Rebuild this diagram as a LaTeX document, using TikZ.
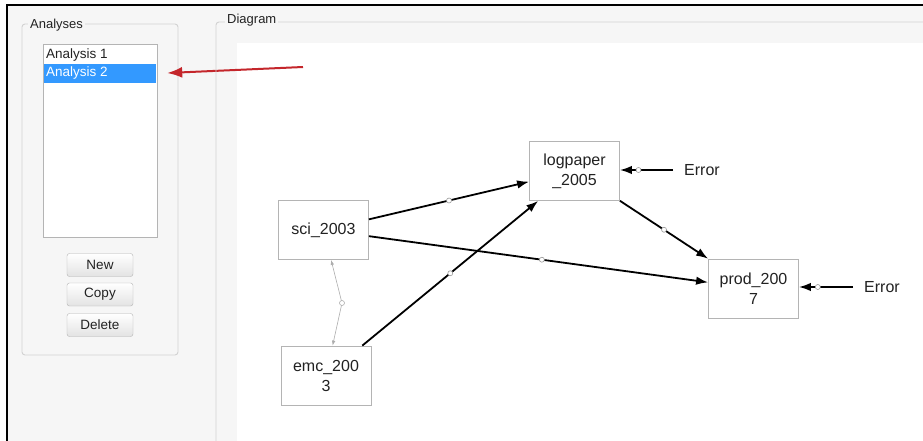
\documentclass[tikz,border=0pt]{standalone}
\usepackage{fontspec}
\setmainfont{Liberation Sans}
\usetikzlibrary{arrows.meta}
\definecolor{panel}{HTML}{F6F6F6}
\definecolor{frameline}{HTML}{D2D2D2}
\definecolor{boxline}{HTML}{B4B4B4}
\definecolor{selblue}{HTML}{3399FF}
\definecolor{ink}{HTML}{222222}
\definecolor{pointer}{HTML}{C4262B}
\definecolor{linkgray}{HTML}{ADADAD}
\begin{document}
\begin{tikzpicture}[x=1pt,y=-1pt,
  uitext/.style={font=\fontsize{13.5}{15}\selectfont, text=ink, inner sep=1pt},
  grouplabel/.style={uitext, font=\fontsize{13}{15}\selectfont, fill=panel, anchor=west, inner xsep=2pt},
  btn/.style={draw=boxline, rounded corners=2.5pt, top color=white, bottom color=gray!22,
    minimum width=66pt, minimum height=23pt, font=\fontsize{13.5}{15}\selectfont, text=ink},
  var/.style={draw=boxline, fill=white, line width=0.8pt, minimum width=90pt, minimum height=59pt,
    align=center, text width=84pt, font=\fontsize{16}{20}\selectfont, text=ink, inner sep=2pt},
  errlabel/.style={font=\fontsize{16}{18}\selectfont, text=ink, anchor=west, inner sep=0pt},
  path/.style={line width=1.8pt, -{Latex[length=12pt,width=8.5pt]}},
  relation/.style={draw=linkgray, line width=0.6pt, {Latex[length=5pt,width=3.5pt]}-{Latex[length=5pt,width=3.5pt]}},
  knot/.style={circle, draw=gray!80, fill=white, line width=0.6pt, minimum size=5pt, inner sep=0pt},
  lightknot/.style={knot, draw=linkgray, minimum size=5pt}
]
\useasboundingbox (0,0) rectangle (923,441);
% window background and frame
\fill[white] (0,0) rectangle (923,441);
\fill[panel] (7,5) rectangle (923,441);
\fill[white] (237,43) rectangle (923,441);
\draw[black, line width=2.6pt] (7,441) -- (7,5) -- (923,5);

% Analyses group
\draw[frameline, line width=0.9pt, rounded corners=3pt] (22,24) rectangle (178,355);
\node[grouplabel] (analyseslbl) at (28,25) {Analyses};
\draw[boxline, fill=white, line width=0.9pt] (43,44) rectangle (157,237);
\node[uitext, anchor=west] (item1) at (45,55) {Analysis 1};
\node[fill=selblue, minimum width=112pt, minimum height=19pt, inner sep=0pt] (sel2) at (100,73.5) {};
\node[uitext, text=white, anchor=west] (item2) at (45,73.5) {Analysis 2};
\node[btn] (newbtn) at (100,265) {New};
\node[btn] (copybtn) at (100,294.5) {Copy};
\node[btn] (delbtn) at (100,325) {Delete};

% pointer to the selected analysis
\coordinate (pointtail) at (303,67);
\draw[pointer, line width=2pt, -{Latex[length=15pt,width=11pt]}, shorten >=11pt] (pointtail) -- (sel2.east);

% Diagram group
\draw[frameline, line width=0.9pt, rounded corners=3pt] (216,445) -- (216,22) -- (930,22);
\node[grouplabel] (diagramlbl) at (225,20) {Diagram};

% variables
\node[var] (sci) at (323.5,230) {sci\_2003};
\node[var] (logpaper) at (574.5,171) {logpaper\\\_2005};
\node[var] (prod) at (753.5,288.5) {prod\_200\\7};
\node[var] (emc) at (326,375.5) {emc\_200\\3};

% error terms
\node[errlabel] (err1) at (684,170) {Error};
\node[errlabel] (err2) at (864,287) {Error};

% paths
\draw[path] (sci) -- node[knot, pos=0.5] (k1) {} (logpaper);
\draw[path] (sci) -- node[knot, pos=0.51] (k2) {} (prod);
\draw[path] (emc) -- node[knot, pos=0.5] (k3) {} (logpaper);
\draw[path] (logpaper) -- node[knot, pos=0.5] (k4) {} (prod);
\draw[path] ([xshift=-11pt]err1.west) -- node[knot, pos=0.65] (k5) {} (logpaper.east |- err1.west);
\draw[path] ([xshift=-11pt]err2.west) -- node[knot, pos=0.65] (k6) {} (prod.east |- err2.west);

% covariance between the two 2003 variables
\coordinate (bend) at (342,303);
\draw[relation] (sci) -- (bend) -- (emc);
\node[lightknot] (k7) at (bend) {};
\end{tikzpicture}
\end{document}
